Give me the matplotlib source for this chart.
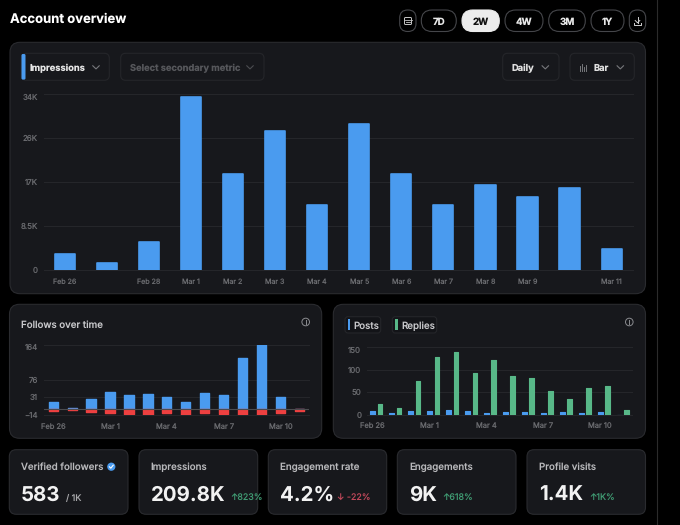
import matplotlib
matplotlib.use("Agg")
import matplotlib.pyplot as plt
from matplotlib.lines import Line2D
from matplotlib.patches import Circle, FancyBboxPatch, Rectangle
from matplotlib.transforms import ScaledTranslation
import numpy as np

plt.rcParams["font.family"] = ["Inter", "DejaVu Sans"]
plt.rcParams["text.hinting"] = "no_hinting"

# =========================
# Data
# =========================
days = ["Feb 26", "", "Feb 28", "Mar 1", "Mar 2", "Mar 3", "Mar 4", "Mar 5",
        "Mar 6", "Mar 7", "Mar 8", "Mar 9", "", "Mar 11"]
impressions = [2950, 1320, 5390, 33350, 18440, 26770, 12490, 28250,
               18500, 12490, 16300, 13980, 15850, 3910]
imp_ticks = [0, 8500, 17000, 25500, 34000]
imp_tick_labels = ["0", "8.5K", "17K", "26K", "34K"]

follows_gained = [20, 5, 26, 44, 37, 39, 33, 18, 41, 37, 132, 164, 31, 0]
follows_lost = [-4, -2.5, -6, -10, -12, -16, -9, -14, -10, -12, -13, -15, -8, -5]
follows_ticks = [-14, 31, 76, 164]

posts = [8, 3, 8, 8, 9.6, 7.4, 3, 5, 5, 4.4, 5, 3.7, 6, 0]
replies = [23, 16, 74, 129, 139.5, 93.5, 122, 87, 81.6, 53, 34, 58.6, 63, 9.6]
activity_ticks = [0, 50, 100, 150]

small_tick_idx = [0, 3, 6, 9, 12]
small_tick_labels = ["Feb 26", "Mar 1", "Mar 4", "Mar 7", "Mar 10"]

card_titles = ["Verified followers", "Impressions", "Engagement rate",
               "Engagements", "Profile visits"]
card_values = ["583", "209.8K", "4.2%", "9K", "1.4K"]
card_deltas = ["/ 1K", "↑823%", "↓ -22%", "↑618%", "↑1K%"]
ranges = ["7D", "2W", "4W", "3M", "1Y"]

# =========================
# Colours
# =========================
BLUE = "#4a9bef"
RED = "#ee4040"
GREEN = "#58b888"
PANEL = "#17181c"
EDGE = "#2a2b2f"
GRID = "#25262a"
TICK = "#6a6b6f"

W, H = 680, 525
fig = plt.figure(figsize=(W / 100, H / 100), dpi=100, facecolor="black")

# overlay in pixel coordinates for the UI chrome
ui = fig.add_axes([0, 0, 1, 1], zorder=0)
ui.set_xlim(0, W)
ui.set_ylim(H, 0)
ui.axis("off")


def box(x0, y0, x1, y1, r=8, fc=PANEL, ec=EDGE, lw=0.8):
    ui.add_patch(FancyBboxPatch((x0 + r, y0 + r), x1 - x0 - 2 * r, y1 - y0 - 2 * r,
                                boxstyle=f"round,pad={r},rounding_size={r}",
                                fc=fc, ec=ec, lw=lw))


def chevron(x, y, c="#77787c"):
    ui.add_line(Line2D([x - 3.2, x, x + 3.2], [y - 1.5, y + 1.6, y - 1.5], color=c, lw=0.8))


def label(x, y, s, size, c, weight="normal", ha="left"):
    return ui.text(x, y, s, fontsize=size, color=c, fontweight=weight, ha=ha, va="center_baseline")


def info_icon(x, y):
    ui.add_patch(Circle((x, y), 3.8, fc="none", ec="#8a8b8f", lw=0.7))
    ui.add_line(Line2D([x, x], [y - 0.4, y + 2], color="#8a8b8f", lw=0.7))
    ui.add_line(Line2D([x, x], [y - 2, y - 1.3], color="#8a8b8f", lw=0.7))


def chart_axes(l, t, r, b):
    ax = fig.add_axes([l / W, 1 - b / H, (r - l) / W, (b - t) / H], zorder=2)
    ax.patch.set_alpha(0)
    for s in ax.spines.values():
        s.set_visible(False)
    ax.set_axisbelow(True)
    ax.grid(axis="y", color=GRID, lw=0.8)
    return ax


def style_ticks(ax, size_x, size_y, pad_x, pad_y, top_shift):
    ax.tick_params(axis="both", length=0, labelcolor=TICK)
    ax.tick_params(axis="x", pad=pad_x, labelsize=size_x)
    ax.tick_params(axis="y", pad=pad_y, labelsize=size_y)
    for line in ax.get_ygridlines():
        line.set_clip_on(False)
    # top label sits a little under its gridline
    top = ax.get_yticklabels()[-1]
    top.set_transform(top.get_transform() + ScaledTranslation(0, -top_shift / 100, fig.dpi_scale_trans))


# =========================
# Page chrome
# =========================
label(9.5, 18, "Account overview", 9.4, "white", "bold")
ui.add_line(Line2D([656.7, 656.7], [0, H], color="#2b2b2b", lw=0.8))

# range buttons
box(399.7, 10, 416, 31.5, r=8, fc="black", ec="#45464a")
ui.add_patch(FancyBboxPatch((404.5, 17.5), 7, 7, boxstyle="round,pad=0,rounding_size=1",
                            fc="none", ec="#c8c8c8", lw=0.7))
ui.add_line(Line2D([404.5, 411.5], [19.8, 19.8], color="#c8c8c8", lw=0.6))
ui.add_line(Line2D([406, 410], [22, 22], color="#c8c8c8", lw=0.6))
range_x = [(421.3, 456.3), (462, 499.3), (505, 543), (548.7, 585.3), (591, 624)]
for (x0, x1), name in zip(range_x, ranges):
    active = name == "2W"
    box(x0, 10, x1, 31.5, r=10.7, fc="#ececec" if active else "black",
        ec="#ececec" if active else "#45464a")
    label((x0 + x1) / 2, 21, name, 7, "#111111" if active else "#e8e8e8", "bold", ha="center")
box(629.3, 10, 645.7, 31.5, r=8, fc="black", ec="#45464a")
ui.add_line(Line2D([637.5, 637.5], [16.5, 22.5], color="#d0d0d0", lw=0.7))
ui.add_line(Line2D([635.2, 637.5, 639.8], [20.5, 22.8, 20.5], color="#d0d0d0", lw=0.7))
ui.add_line(Line2D([633.7, 633.7, 641.3, 641.3], [22.5, 25, 25, 22.5], color="#d0d0d0", lw=0.7))

# panels
box(10, 42.3, 645.5, 293.7, r=10)
box(9.5, 304.3, 321.7, 438.3, r=10)
box(333.3, 304.3, 645.5, 438.3, r=10)

# dropdowns on the main panel
box(21.3, 53.3, 109.3, 80.3, r=5, ec=GRID)
ui.add_patch(FancyBboxPatch((21.5, 54), 4, 25.6, boxstyle="round,pad=0,rounding_size=1.4",
                            fc=BLUE, ec="none"))
label(29.3, 67, "Impressions", 6.7, "#e6e6e6", "bold")
chevron(96, 67.3)
box(120.7, 53.3, 264, 80.3, r=5, ec=GRID)
label(129.7, 67, "Select secondary metric", 6.7, "#56575b", "bold")
chevron(250, 67.3, "#4c4d51")
box(502.7, 53.3, 559, 80.3, r=5, ec=GRID)
label(511.3, 67, "Daily", 6.7, "#e0e0e0", "bold")
chevron(545.3, 67.3)
box(570, 53.3, 634.3, 80.3, r=5, ec=GRID)
for dx, top in [(-3, 66), (-1, 64), (1, 67), (3, 65)]:
    ui.add_line(Line2D([583.3 + dx, 583.3 + dx], [top, 70.5], color="#77787c", lw=0.7))
label(593.7, 67, "Bar", 6.7, "#e0e0e0", "bold")
chevron(620.3, 67.3)

# small panel headers
label(21, 324, "Follows over time", 7.0, "#c8c8cb", "medium")
info_icon(305.7, 322)
info_icon(629.3, 322)
box(345, 316.7, 380.7, 333, r=3, fc="#131418", ec=GRID)
ui.add_patch(Rectangle((347.7, 319.3), 2.6, 10.7, fc=BLUE, ec="none"))
label(353.3, 324.8, "Posts", 7.0, "#c8c8cb", "medium")
box(392.3, 316.7, 436.7, 333, r=3, fc="#131418", ec=GRID)
ui.add_patch(Rectangle((395.3, 319.3), 2.6, 10.7, fc=GREEN, ec="none"))
label(401, 324.8, "Replies", 7.0, "#c8c8cb", "medium")

# =========================
# Impressions bars
# =========================
x = np.arange(len(days))
ax = chart_axes(43.6, 94, 632.7, 269.5)
ax.bar(x, impressions, width=0.48, color=BLUE, edgecolor=BLUE, lw=1.2, joinstyle="round")
ax.axhline(0, color=GRID, lw=0.8, clip_on=False, zorder=0)
ax.set_xlim(-0.5, 13.5)
ax.set_ylim(0, 34000)
ax.set_yticks(imp_ticks, imp_tick_labels)
ax.set_xticks(x, days)
style_ticks(ax, 5.1, 5.7, 6.5, 4, 2.5)

# =========================
# Follows over time
# =========================
ax = chart_axes(43.8, 345, 308.8, 415)
ax.bar(x, follows_gained, width=0.49, color=BLUE, edgecolor=BLUE, lw=1.0, joinstyle="round")
ax.bar(x, follows_lost, width=0.49, color=RED, edgecolor=RED, lw=1.0, joinstyle="round")
ax.axhline(0, color="#4b4c50", lw=0.8, zorder=3)
ax.set_xlim(-0.5, 13.5)
ax.set_ylim(-14, 164)
ax.set_yticks(follows_ticks)
ax.set_xticks(small_tick_idx, small_tick_labels)
style_ticks(ax, 5.4, 5.7, 5.5, 4, 2.3)

# =========================
# Posts and replies
# =========================
ax = chart_axes(366.8, 347.3, 632.4, 414.7)
offset = 0.193
ax.bar(x - offset, posts, width=0.24, color=BLUE, edgecolor=BLUE, lw=0.8, joinstyle="round")
ax.bar(x + offset, replies, width=0.24, color=GREEN, edgecolor=GREEN, lw=0.8, joinstyle="round")
ax.axhline(0, color=GRID, lw=0.8, clip_on=False, zorder=0)
ax.set_xlim(-0.5, 13.5)
ax.set_ylim(0, 150)
ax.set_yticks(activity_ticks)
ax.set_xticks(np.array(small_tick_idx) - offset, small_tick_labels)
style_ticks(ax, 5.4, 5.7, 5.5, 4, 2.3)

# =========================
# Stat cards
# =========================
card_x = [(9.3, 128), (139, 257.7), (268.3, 386.7), (397.3, 516), (527, 645.5)]
delta_x = [65.7, 230, 336.7, 442.3, 589]
delta_colors = ["#a8a8ab", "#3f9a72", "#c0485a", "#3f9a72", "#3f9a72"]
for i, (x0, x1) in enumerate(card_x):
    box(x0, 449.7, x1, 514.3, r=7)
    label(x0 + 11.7, 466.7, card_titles[i], 7.0, "#b8b8bb", "medium")
    label(x0 + 11.7, 493.5, card_values[i], 14.7, "#f2f2f2", "bold")
    label(delta_x[i], 497.3, card_deltas[i], 6.4, delta_colors[i])

ui.add_patch(Circle((111.3, 466.7), 4.1, fc=BLUE, ec="none"))
ui.add_line(Line2D([109.4, 110.8, 113.2], [466.8, 468.2, 465.2], color="white", lw=0.8))

fig.savefig("out.png", dpi=100, facecolor="black")
